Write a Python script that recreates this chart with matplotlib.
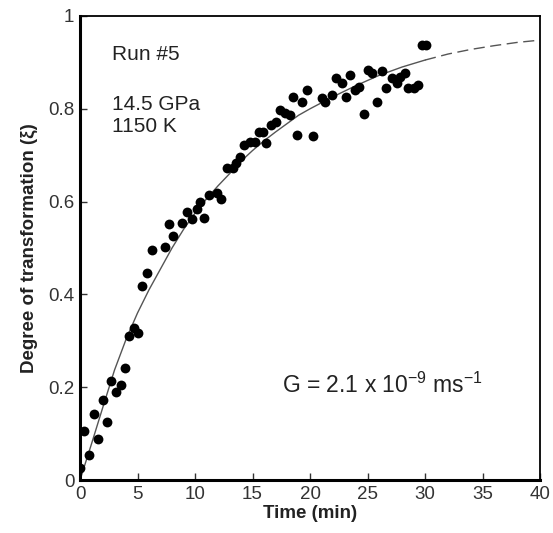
import matplotlib
matplotlib.use("Agg")
import matplotlib.pyplot as plt

plt.rcParams["font.family"] = ["Liberation Sans", "DejaVu Sans"]
plt.rcParams["mathtext.fontset"] = "custom"
plt.rcParams["mathtext.rm"] = "Liberation Sans"
plt.rcParams["mathtext.it"] = "Liberation Sans:italic"
plt.rcParams["mathtext.bf"] = "Liberation Sans:bold"

time_min = [0.0, 0.35, 0.8, 1.2, 1.6, 2.0, 2.35, 2.7, 3.1, 3.6, 3.9, 4.3, 4.7, 5.0,
            5.4, 5.8, 6.3, 7.4, 7.7, 8.1, 8.9, 9.3, 9.7, 10.2, 10.4, 10.8, 11.2,
            11.9, 12.3, 12.8, 13.3, 13.6, 13.9, 14.3, 14.8, 15.2, 15.6, 15.9, 16.2,
            16.6, 17.0, 17.4, 17.8, 18.3, 18.5, 18.9, 19.3, 19.7, 20.3, 21.0, 21.3,
            21.9, 22.3, 22.8, 23.1, 23.5, 23.9, 24.3, 24.7, 25.0, 25.4, 25.8, 26.3,
            26.6, 27.1, 27.6, 27.8, 28.3, 28.5, 29.0, 29.4, 29.7, 30.1]
xi = [0.026, 0.106, 0.054, 0.142, 0.088, 0.172, 0.125, 0.213, 0.19, 0.205, 0.241,
      0.31, 0.327, 0.317, 0.418, 0.446, 0.496, 0.502, 0.552, 0.526, 0.554, 0.578,
      0.562, 0.584, 0.599, 0.565, 0.614, 0.619, 0.606, 0.672, 0.672, 0.683, 0.696,
      0.722, 0.728, 0.728, 0.75, 0.75, 0.726, 0.765, 0.772, 0.797, 0.791, 0.787,
      0.825, 0.744, 0.815, 0.841, 0.741, 0.823, 0.815, 0.83, 0.866, 0.856, 0.825,
      0.873, 0.84, 0.847, 0.789, 0.884, 0.877, 0.815, 0.881, 0.845, 0.866, 0.856,
      0.869, 0.877, 0.845, 0.845, 0.851, 0.937, 0.937]

# fitted curve (solid) and its extrapolation (dashed)
fit_t = [0, 1, 2, 3, 4, 5, 6, 7, 8, 9, 10, 11, 12, 13, 14, 15, 16, 17, 18, 19, 20,
         22, 24, 26, 28, 30]
fit_xi = [0.0, 0.078, 0.158, 0.237, 0.303, 0.36, 0.41, 0.455, 0.50, 0.54, 0.575,
          0.606, 0.634, 0.66, 0.687, 0.71, 0.731, 0.75, 0.768, 0.786, 0.80,
          0.826, 0.85, 0.872, 0.89, 0.905]
ext_t = [30, 32, 34, 36, 38, 40]
ext_xi = [0.905, 0.918, 0.928, 0.936, 0.943, 0.948]

fig = plt.figure(figsize=(5.53, 5.33), dpi=100)
ax = fig.add_axes([0.1447, 0.0994, 0.8318, 0.8706])

ax.plot(fit_t, fit_xi, color="#555555", linewidth=1.0, zorder=2)
ax.plot(ext_t, ext_xi, color="#555555", linewidth=1.0, dashes=(8, 4), zorder=2)
ax.scatter(time_min, xi, s=50, color="black", zorder=3, linewidths=0)

ax.set_xlim(0, 40)
ax.set_ylim(0, 1)
ax.set_xticks(range(0, 41, 5))
ax.set_yticks([0, 0.2, 0.4, 0.6, 0.8, 1])
ax.set_yticklabels(["0", "0.2", "0.4", "0.6", "0.8", "1"])
ax.tick_params(direction="in", length=5, width=1, labelsize=13.5, colors="#333333",
               pad=4)

for side in ["left", "bottom"]:
    ax.spines[side].set_linewidth(2.2)
for side in ["top", "right"]:
    ax.spines[side].set_linewidth(1.3)

ax.set_xlabel("Time (min)", fontsize=13.5, fontweight="bold", color="#222222",
              labelpad=2)
ax.set_ylabel("Degree of transformation (\u03be)", fontsize=13.5,
              fontweight="bold", color="#222222", labelpad=7)

ax.text(2.8, 0.918, "Run #5", fontsize=15, color="#222222", va="center")
ax.text(2.8, 0.81, "14.5 GPa", fontsize=15, color="#222222", va="center")
ax.text(2.8, 0.762, "1150 K", fontsize=15, color="#222222", va="center")
ax.text(17.6, 0.205, r"G = 2.1 x 10$^{\mathrm{-9}}$ ms$^{\mathrm{-1}}$", fontsize=16.5,
        color="#222222", va="center")

fig.savefig("out.png", dpi=100)
